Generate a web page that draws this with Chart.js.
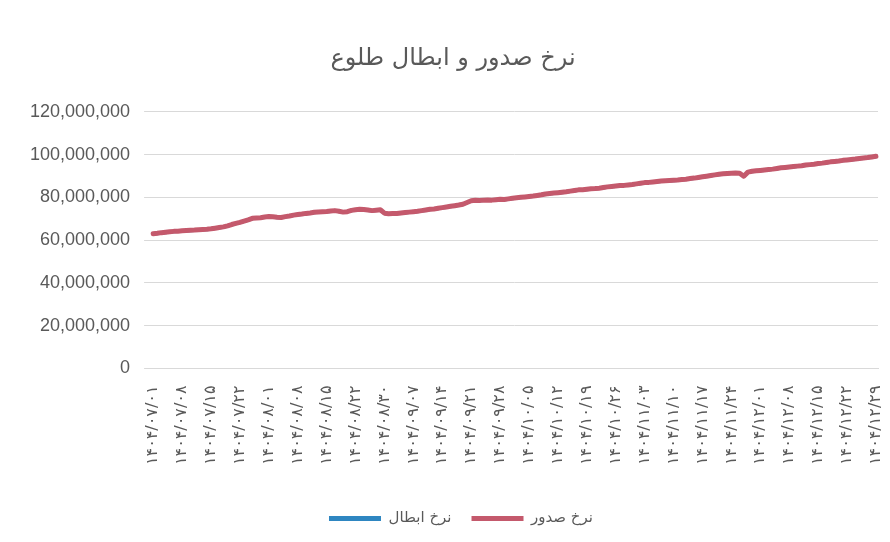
<!DOCTYPE html>
<html>
<head>
<meta charset="utf-8">
<script src="https://cdn.jsdelivr.net/npm/chart.js@4/dist/chart.umd.min.js"></script>
<style>
  html, body { margin: 0; padding: 0; background: #ffffff; }
  #wrap { width: 890px; height: 542px; position: relative; }
</style>
</head>
<body>
<div id="wrap"><canvas id="c"></canvas></div>
<script>
// ---------- DATA ----------
const chartTitle = 'نرخ صدور و ابطال طلوع';
const seriesNames = ['نرخ ابطال', 'نرخ صدور'];

const dates = [
 '۱۴۰۴/۰۷/۰۱','۱۴۰۴/۰۷/۰۲','۱۴۰۴/۰۷/۰۳','۱۴۰۴/۰۷/۰۴','۱۴۰۴/۰۷/۰۵','۱۴۰۴/۰۷/۰۶','۱۴۰۴/۰۷/۰۷',
 '۱۴۰۴/۰۷/۰۸','۱۴۰۴/۰۷/۰۹','۱۴۰۴/۰۷/۱۰','۱۴۰۴/۰۷/۱۱','۱۴۰۴/۰۷/۱۲','۱۴۰۴/۰۷/۱۳','۱۴۰۴/۰۷/۱۴',
 '۱۴۰۴/۰۷/۱۵','۱۴۰۴/۰۷/۱۶','۱۴۰۴/۰۷/۱۷','۱۴۰۴/۰۷/۱۸','۱۴۰۴/۰۷/۱۹','۱۴۰۴/۰۷/۲۰','۱۴۰۴/۰۷/۲۱',
 '۱۴۰۴/۰۷/۲۲','۱۴۰۴/۰۷/۲۳','۱۴۰۴/۰۷/۲۴','۱۴۰۴/۰۷/۲۶','۱۴۰۴/۰۷/۲۷','۱۴۰۴/۰۷/۲۸','۱۴۰۴/۰۷/۳۰',
 '۱۴۰۴/۰۸/۰۱','۱۴۰۴/۰۸/۰۲','۱۴۰۴/۰۸/۰۳','۱۴۰۴/۰۸/۰۴','۱۴۰۴/۰۸/۰۵','۱۴۰۴/۰۸/۰۶','۱۴۰۴/۰۸/۰۷',
 '۱۴۰۴/۰۸/۰۸','۱۴۰۴/۰۸/۰۹','۱۴۰۴/۰۸/۱۰','۱۴۰۴/۰۸/۱۱','۱۴۰۴/۰۸/۱۲','۱۴۰۴/۰۸/۱۳','۱۴۰۴/۰۸/۱۴',
 '۱۴۰۴/۰۸/۱۵','۱۴۰۴/۰۸/۱۶','۱۴۰۴/۰۸/۱۷','۱۴۰۴/۰۸/۱۸','۱۴۰۴/۰۸/۱۹','۱۴۰۴/۰۸/۲۰','۱۴۰۴/۰۸/۲۱',
 '۱۴۰۴/۰۸/۲۲','۱۴۰۴/۰۸/۲۳','۱۴۰۴/۰۸/۲۴','۱۴۰۴/۰۸/۲۵','۱۴۰۴/۰۸/۲۷','۱۴۰۴/۰۸/۲۸','۱۴۰۴/۰۸/۲۹',
 '۱۴۰۴/۰۸/۳۰','۱۴۰۴/۰۹/۰۱','۱۴۰۴/۰۹/۰۲','۱۴۰۴/۰۹/۰۳','۱۴۰۴/۰۹/۰۴','۱۴۰۴/۰۹/۰۵','۱۴۰۴/۰۹/۰۶',
 '۱۴۰۴/۰۹/۰۷','۱۴۰۴/۰۹/۰۸','۱۴۰۴/۰۹/۰۹','۱۴۰۴/۰۹/۱۰','۱۴۰۴/۰۹/۱۱','۱۴۰۴/۰۹/۱۲','۱۴۰۴/۰۹/۱۳',
 '۱۴۰۴/۰۹/۱۴','۱۴۰۴/۰۹/۱۵','۱۴۰۴/۰۹/۱۶','۱۴۰۴/۰۹/۱۷','۱۴۰۴/۰۹/۱۸','۱۴۰۴/۰۹/۱۹','۱۴۰۴/۰۹/۲۰',
 '۱۴۰۴/۰۹/۲۱','۱۴۰۴/۰۹/۲۲','۱۴۰۴/۰۹/۲۳','۱۴۰۴/۰۹/۲۴','۱۴۰۴/۰۹/۲۵','۱۴۰۴/۰۹/۲۶','۱۴۰۴/۰۹/۲۷',
 '۱۴۰۴/۰۹/۲۸','۱۴۰۴/۰۹/۲۹','۱۴۰۴/۰۹/۳۰','۱۴۰۴/۱۰/۰۱','۱۴۰۴/۱۰/۰۲','۱۴۰۴/۱۰/۰۳','۱۴۰۴/۱۰/۰۴',
 '۱۴۰۴/۱۰/۰۵','۱۴۰۴/۱۰/۰۶','۱۴۰۴/۱۰/۰۷','۱۴۰۴/۱۰/۰۸','۱۴۰۴/۱۰/۰۹','۱۴۰۴/۱۰/۱۰','۱۴۰۴/۱۰/۱۱',
 '۱۴۰۴/۱۰/۱۲','۱۴۰۴/۱۰/۱۳','۱۴۰۴/۱۰/۱۴','۱۴۰۴/۱۰/۱۵','۱۴۰۴/۱۰/۱۶','۱۴۰۴/۱۰/۱۷','۱۴۰۴/۱۰/۱۸',
 '۱۴۰۴/۱۰/۱۹','۱۴۰۴/۱۰/۲۰','۱۴۰۴/۱۰/۲۱','۱۴۰۴/۱۰/۲۲','۱۴۰۴/۱۰/۲۳','۱۴۰۴/۱۰/۲۴','۱۴۰۴/۱۰/۲۵',
 '۱۴۰۴/۱۰/۲۶','۱۴۰۴/۱۰/۲۷','۱۴۰۴/۱۰/۲۸','۱۴۰۴/۱۰/۲۹','۱۴۰۴/۱۰/۳۰','۱۴۰۴/۱۱/۰۱','۱۴۰۴/۱۱/۰۲',
 '۱۴۰۴/۱۱/۰۳','۱۴۰۴/۱۱/۰۴','۱۴۰۴/۱۱/۰۵','۱۴۰۴/۱۱/۰۶','۱۴۰۴/۱۱/۰۷','۱۴۰۴/۱۱/۰۸','۱۴۰۴/۱۱/۰۹',
 '۱۴۰۴/۱۱/۱۰','۱۴۰۴/۱۱/۱۱','۱۴۰۴/۱۱/۱۲','۱۴۰۴/۱۱/۱۳','۱۴۰۴/۱۱/۱۴','۱۴۰۴/۱۱/۱۵','۱۴۰۴/۱۱/۱۶',
 '۱۴۰۴/۱۱/۱۷','۱۴۰۴/۱۱/۱۸','۱۴۰۴/۱۱/۱۹','۱۴۰۴/۱۱/۲۰','۱۴۰۴/۱۱/۲۱','۱۴۰۴/۱۱/۲۲','۱۴۰۴/۱۱/۲۳',
 '۱۴۰۴/۱۱/۲۴','۱۴۰۴/۱۱/۲۵','۱۴۰۴/۱۱/۲۶','۱۴۰۴/۱۱/۲۷','۱۴۰۴/۱۱/۲۸','۱۴۰۴/۱۱/۲۹','۱۴۰۴/۱۱/۳۰',
 '۱۴۰۴/۱۲/۰۱','۱۴۰۴/۱۲/۰۲','۱۴۰۴/۱۲/۰۳','۱۴۰۴/۱۲/۰۴','۱۴۰۴/۱۲/۰۵','۱۴۰۴/۱۲/۰۶','۱۴۰۴/۱۲/۰۷',
 '۱۴۰۴/۱۲/۰۸','۱۴۰۴/۱۲/۰۹','۱۴۰۴/۱۲/۱۰','۱۴۰۴/۱۲/۱۱','۱۴۰۴/۱۲/۱۲','۱۴۰۴/۱۲/۱۳','۱۴۰۴/۱۲/۱۴',
 '۱۴۰۴/۱۲/۱۵','۱۴۰۴/۱۲/۱۶','۱۴۰۴/۱۲/۱۷','۱۴۰۴/۱۲/۱۸','۱۴۰۴/۱۲/۱۹','۱۴۰۴/۱۲/۲۰','۱۴۰۴/۱۲/۲۱',
 '۱۴۰۴/۱۲/۲۲','۱۴۰۴/۱۲/۲۳','۱۴۰۴/۱۲/۲۴','۱۴۰۴/۱۲/۲۵','۱۴۰۴/۱۲/۲۶','۱۴۰۴/۱۲/۲۷','۱۴۰۴/۱۲/۲۸',
 '۱۴۰۴/۱۲/۲۹'
];

// نرخ صدور (issuance rate), in millions
const issuanceMillions = [
 63.0,63.2,63.5,63.7,63.9,64.1,64.2,64.4,64.5,64.6,64.7,64.9,65.0,65.1,
 65.3,65.6,65.9,66.2,66.7,67.3,67.8,68.3,68.9,69.5,70.2,70.4,70.5,70.8,71.0,
 70.9,70.7,70.6,71.0,71.3,71.7,72.0,72.2,72.5,72.7,73.0,73.2,73.3,73.4,
 73.6,73.8,73.5,73.1,73.3,73.9,74.2,74.4,74.3,74.1,73.8,74.0,74.2,
 72.6,72.3,72.4,72.5,72.7,72.9,73.1,73.3,73.5,73.8,74.1,74.4,74.6,74.9,75.2,
 75.5,75.8,76.1,76.4,76.8,77.6,78.4,78.6,78.5,78.7,78.8,78.7,78.9,79.1,79.0,79.3,
 79.6,79.8,80.0,80.2,80.4,80.6,80.9,81.2,81.6,81.8,82.0,82.2,82.4,82.6,
 82.9,83.2,83.5,83.6,83.8,84.0,84.1,84.3,84.6,84.9,85.1,85.3,85.5,85.6,85.8,86.0,
 86.3,86.6,86.9,87.0,87.2,87.4,87.6,87.8,87.9,88.0,88.1,88.3,88.5,88.8,89.0,89.3,
 89.6,89.9,90.2,90.5,90.8,91.0,91.2,91.3,91.4,91.3,89.9,91.8,
 92.2,92.4,92.6,92.8,93.0,93.2,93.5,93.8,94.0,94.2,94.4,94.6,94.8,95.1,95.3,95.5,95.8,96.0,96.3,96.6,
 96.8,97.0,97.3,97.5,97.7,97.9,98.2,98.4,98.6,98.9,99.2
];

// نرخ ابطال (redemption rate), in millions — lies just under the issuance line
const redemptionMillions = [
 62.8,63.0,63.3,63.5,63.7,63.9,64.0,64.2,64.3,64.4,64.5,64.7,64.8,64.9,
 65.1,65.4,65.7,66.0,66.5,67.1,67.6,68.1,68.7,69.3,70.0,70.2,70.3,70.6,70.8,
 70.7,70.5,70.4,70.8,71.1,71.5,71.8,72.0,72.3,72.5,72.8,73.0,73.1,73.2,
 73.4,73.6,73.3,72.9,73.1,73.7,74.0,74.2,74.1,73.9,73.6,73.8,74.0,
 72.4,72.1,72.2,72.3,72.5,72.7,72.9,73.1,73.3,73.6,73.9,74.2,74.4,74.7,75.0,
 75.3,75.6,75.9,76.2,76.6,77.4,78.2,78.4,78.3,78.5,78.6,78.5,78.7,78.9,78.8,79.1,
 79.4,79.6,79.8,80.0,80.2,80.4,80.7,81.0,81.4,81.6,81.8,82.0,82.2,82.4,
 82.7,83.0,83.3,83.4,83.6,83.8,83.9,84.1,84.4,84.7,84.9,85.1,85.3,85.4,85.6,85.8,
 86.1,86.4,86.7,86.8,87.0,87.2,87.4,87.6,87.7,87.8,87.9,88.1,88.3,88.6,88.8,89.1,
 89.4,89.7,90.0,90.3,90.6,90.8,91.0,91.1,91.2,91.1,89.7,91.6,
 92.0,92.2,92.4,92.6,92.8,93.0,93.3,93.6,93.8,94.0,94.2,94.4,94.6,94.9,95.1,95.3,95.6,95.8,96.1,96.4,
 96.6,96.8,97.1,97.3,97.5,97.7,98.0,98.2,98.4,98.7,99.0
];

const yMin = 0, yMax = 120, yStep = 20;   // millions
const labelEvery = 7;

// ---------- CHART ----------
const grey = '#595959';
const numFont = "'Liberation Sans', 'DejaVu Sans', sans-serif";
const faFont = "'DejaVu Sans', sans-serif";

// nudge the legend a little, as in the reference
const legendShift = {
  id: 'legendShift',
  afterLayout(chart) {
    if (chart.legend) { chart.legend.left += 8; chart.legend.right += 8; }
  }
};

new Chart(document.getElementById('c'), {
  type: 'line',
  data: {
    labels: dates,
    datasets: [
      {
        label: seriesNames[1],
        data: issuanceMillions,
        borderColor: '#c4596c',
        backgroundColor: '#c4596c',
        borderWidth: 5,
        pointRadius: 0,
        tension: 0,
        borderCapStyle: 'round',
        borderJoinStyle: 'round'
      },
      {
        label: seriesNames[0],
        data: redemptionMillions,
        borderColor: '#2e86c1',
        backgroundColor: '#2e86c1',
        borderWidth: 3,
        pointRadius: 0,
        tension: 0,
        borderCapStyle: 'round',
        borderJoinStyle: 'round'
      }
    ]
  },
  plugins: [legendShift],
  options: {
    responsive: true,
    maintainAspectRatio: false,
    animation: false,
    layout: { padding: { left: 16, right: 0, top: 34, bottom: 6 } },
    plugins: {
      title: {
        display: true,
        text: chartTitle,
        color: grey,
        font: { family: faFont, size: 24, weight: 'normal' },
        padding: { top: 10, bottom: 39 }
      },
      legend: {
        position: 'bottom',
        reverse: true,
        labels: {
          color: grey,
          boxWidth: 52,
          boxHeight: 5,
          padding: 20,
          font: { family: faFont, size: 15 },
          generateLabels(chart) {
            const items = Chart.defaults.plugins.legend.labels.generateLabels(chart);
            items.forEach(it => { it.lineWidth = 0; });
            return items;
          }
        }
      },
      tooltip: { enabled: false }
    },
    scales: {
      y: {
        min: yMin,
        max: yMax,
        ticks: {
          stepSize: yStep,
          color: grey,
          padding: 14,
          font: { family: numFont, size: 18 },
          callback: v => (v * 1000000).toLocaleString('en-US')
        },
        grid: { color: '#d9d9d9', lineWidth: 1, drawTicks: true, tickLength: 7 },
        border: { display: false }
      },
      x: {
        offset: true,
        afterFit: s => { s.height += 17; s.paddingRight = 12; },
        ticks: {
          autoSkip: false,
          minRotation: 90,
          maxRotation: 90,
          color: grey,
          padding: 9,
          font: { family: faFont, size: 16 },
          callback: function (v, i) { return i % labelEvery === 0 ? this.getLabelForValue(v) : null; }
        },
        grid: { display: false },
        border: { display: true, color: '#d9d9d9' }
      }
    }
  }
});
</script>
</body>
</html>
